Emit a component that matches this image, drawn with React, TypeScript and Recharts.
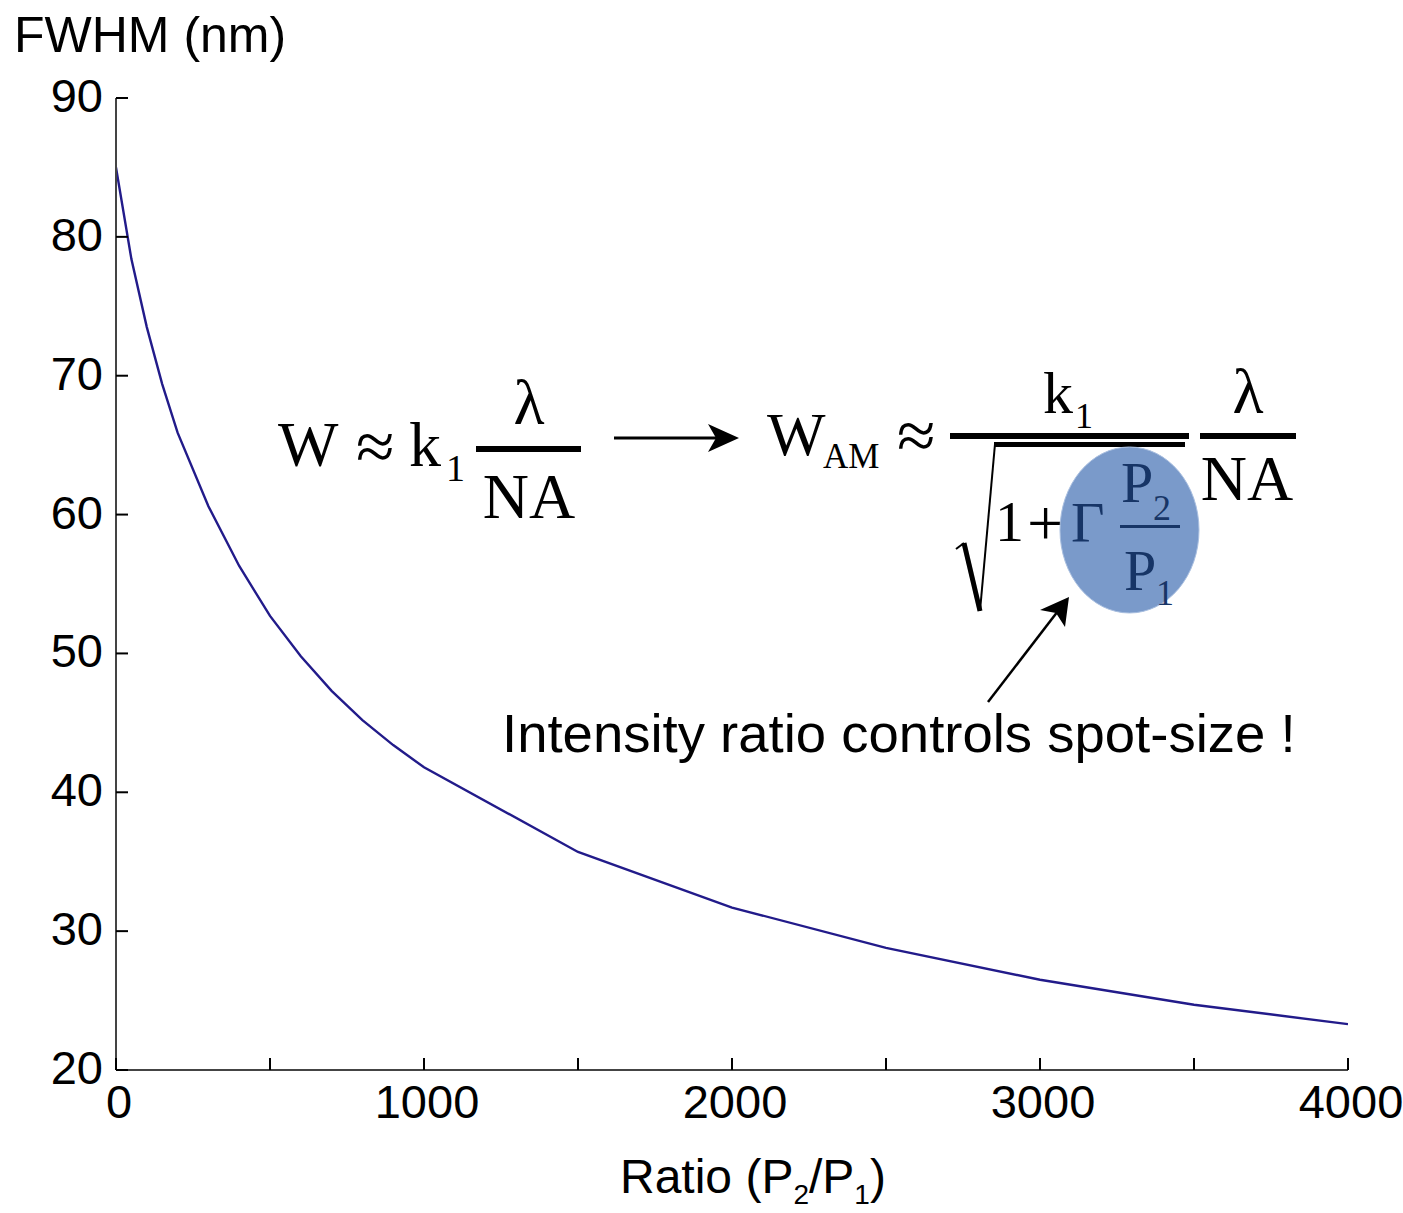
import React from 'react';
import { LineChart, Line, XAxis, YAxis } from 'recharts';

const ratioValues = [0, 50, 100, 150, 200, 300, 400, 500, 600, 700, 800, 900, 1000, 1500, 2000, 2500, 3000, 3500, 4000];
const fwhmValues = [85.0, 78.4, 73.5, 69.4, 65.9, 60.6, 56.3, 52.7, 49.8, 47.3, 45.2, 43.4, 41.8, 35.7, 31.7, 28.8, 26.5, 24.7, 23.3];
const xTicks = [0, 500, 1000, 1500, 2000, 2500, 3000, 3500, 4000];
const xLabelTicks = [0, 1000, 2000, 3000, 4000];
const yTicks = [20, 30, 40, 50, 60, 70, 80, 90];

const data = ratioValues.map((r, i) => ({ ratio: r, fwhm: fwhmValues[i] }));

const SANS = '"Liberation Sans", Arial, Helvetica, sans-serif';
const SERIF = '"Liberation Serif", "Times New Roman", serif';

const XTick = (props: any) => {
  const { x, y, payload } = props;
  const v = payload.value;
  return (
    <g>
      <line x1={x} y1={y} x2={x} y2={y - 12} stroke="#000" strokeWidth={2} />
      {xLabelTicks.includes(v) && (
        <text x={x + 3} y={y + 48} textAnchor="middle" fontFamily={SANS} fontSize={47} fill="#000">
          {v}
        </text>
      )}
    </g>
  );
};

const YTick = (props: any) => {
  const { x, y, payload } = props;
  return (
    <g>
      <line x1={x} y1={y} x2={x + 12} y2={y} stroke="#000" strokeWidth={2} />
      <text x={x - 13} y={y + 14} textAnchor="end" fontFamily={SANS} fontSize={47} fill="#000">
        {payload.value}
      </text>
    </g>
  );
};

const Overlay = () => (
  <svg width={1403} height={1213} style={{ position: 'absolute', left: 0, top: 0, pointerEvents: 'none' }}>
    {/* axis titles */}
    <text x={14} y={52} fontFamily={SANS} fontSize={50} fill="#000">FWHM (nm)</text>
    <text x={620} y={1193} fontFamily={SANS} fontSize={48} fill="#000">
      Ratio (P<tspan fontSize={28} dy={11}>2</tspan><tspan dy={-11}>/P</tspan><tspan fontSize={28} dy={11}>1</tspan><tspan dy={-11}>)</tspan>
    </text>

    {/* left equation */}
    <text x={278} y={466} fontFamily={SERIF} fontSize={64} fill="#000">W</text>
    <text x={356} y={470} fontFamily={SERIF} fontSize={70} fill="#000">≈</text>
    <text x={409} y={466} fontFamily={SERIF} fontSize={64} fill="#000">k</text>
    <text x={446} y={481} fontFamily={SERIF} fontSize={38} fill="#000">1</text>
    <text x={529} y={424} textAnchor="middle" fontFamily={SERIF} fontSize={64} fill="#000">λ</text>
    <rect x={476} y={446} width={105} height={6} fill="#000" />
    <text x={529} y={518} textAnchor="middle" fontFamily={SERIF} fontSize={64} fill="#000">NA</text>

    {/* long arrow */}
    <line x1={614} y1={438} x2={722} y2={438} stroke="#000" strokeWidth={3} />
    <polygon points="739,438 708,424 716,438 708,452" fill="#000" />

    {/* right equation */}
    <text x={767} y={455} fontFamily={SERIF} fontSize={62} fill="#000">W</text>
    <text x={823} y={468} fontFamily={SERIF} fontSize={35} fill="#000">AM</text>
    <text x={897} y={459} fontFamily={SERIF} fontSize={70} fill="#000">≈</text>
    <text x={1043} y={413} fontFamily={SERIF} fontSize={60} fill="#000">k</text>
    <text x={1075} y={428} fontFamily={SERIF} fontSize={36} fill="#000">1</text>
    <rect x={950} y={433} width={239} height={6} fill="#000" />
    {/* radical */}
    <line x1={956} y1={549} x2={964} y2={543} stroke="#000" strokeWidth={2} />
    <line x1={964} y1={543} x2={980} y2={611} stroke="#000" strokeWidth={5} />
    <line x1={980} y1={611} x2={995} y2={444} stroke="#000" strokeWidth={2} />
    <rect x={994} y={442} width={191} height={5} fill="#000" />
    <text x={995} y={541} fontFamily={SERIF} fontSize={58} fill="#000">1</text>
    <text x={1027} y={545} fontFamily={SERIF} fontSize={66} fill="#000">+</text>
    {/* highlight ellipse */}
    <ellipse cx={1129.5} cy={530} rx={69.5} ry={83} fill="#7A9ACA" stroke="#A9BFE0" strokeWidth={1} />
    <text x={1071} y={542} fontFamily={SERIF} fontSize={58} fill="#173566">Γ</text>
    <text x={1121} y={502} fontFamily={SERIF} fontSize={58} fill="#173566">P</text>
    <text x={1153} y={520} fontFamily={SERIF} fontSize={36} fill="#173566">2</text>
    <rect x={1120} y={525} width={60} height={3} fill="#173566" />
    <text x={1124} y={590} fontFamily={SERIF} fontSize={58} fill="#173566">P</text>
    <text x={1156} y={605} fontFamily={SERIF} fontSize={36} fill="#173566">1</text>
    {/* lambda / NA */}
    <text x={1248} y={413} textAnchor="middle" fontFamily={SERIF} fontSize={64} fill="#000">λ</text>
    <rect x={1200} y={433} width={96} height={6} fill="#000" />
    <text x={1247} y={500} textAnchor="middle" fontFamily={SERIF} fontSize={64} fill="#000">NA</text>

    {/* annotation arrow */}
    <line x1={988} y1={702} x2={1058} y2={611} stroke="#000" strokeWidth={2.5} />
    <polygon points="1069,597 1040,610 1056,613 1065,627" fill="#000" />
    <text x={502} y={752} fontFamily={SANS} fontSize={54.5} fill="#000">Intensity ratio controls spot-size !</text>
  </svg>
);

export default function App() {
  return (
    <div style={{ position: 'absolute', left: 0, top: 0, width: 1403, height: 1213, background: '#fff' }}>
      <LineChart width={1403} height={1213} data={data} margin={{ top: 98, right: 55, bottom: 0, left: 0 }}>
        <XAxis
          dataKey="ratio"
          type="number"
          domain={[0, 4000]}
          ticks={xTicks}
          height={143}
          tickSize={0}
          tickMargin={0}
          tick={<XTick />}
          axisLine={{ stroke: '#444', strokeWidth: 2 }}
          tickLine={false}
          interval={0}
          allowDataOverflow
        />
        <YAxis
          type="number"
          domain={[20, 90]}
          ticks={yTicks}
          width={116}
          tickSize={0}
          tickMargin={0}
          tick={<YTick />}
          axisLine={{ stroke: '#444', strokeWidth: 2 }}
          tickLine={false}
          interval={0}
          allowDataOverflow
        />
        <Line
          type="linear"
          dataKey="fwhm"
          stroke="#221B8A"
          strokeWidth={2.4}
          dot={false}
          isAnimationActive={false}
        />
      </LineChart>
      <Overlay />
    </div>
  );
}
